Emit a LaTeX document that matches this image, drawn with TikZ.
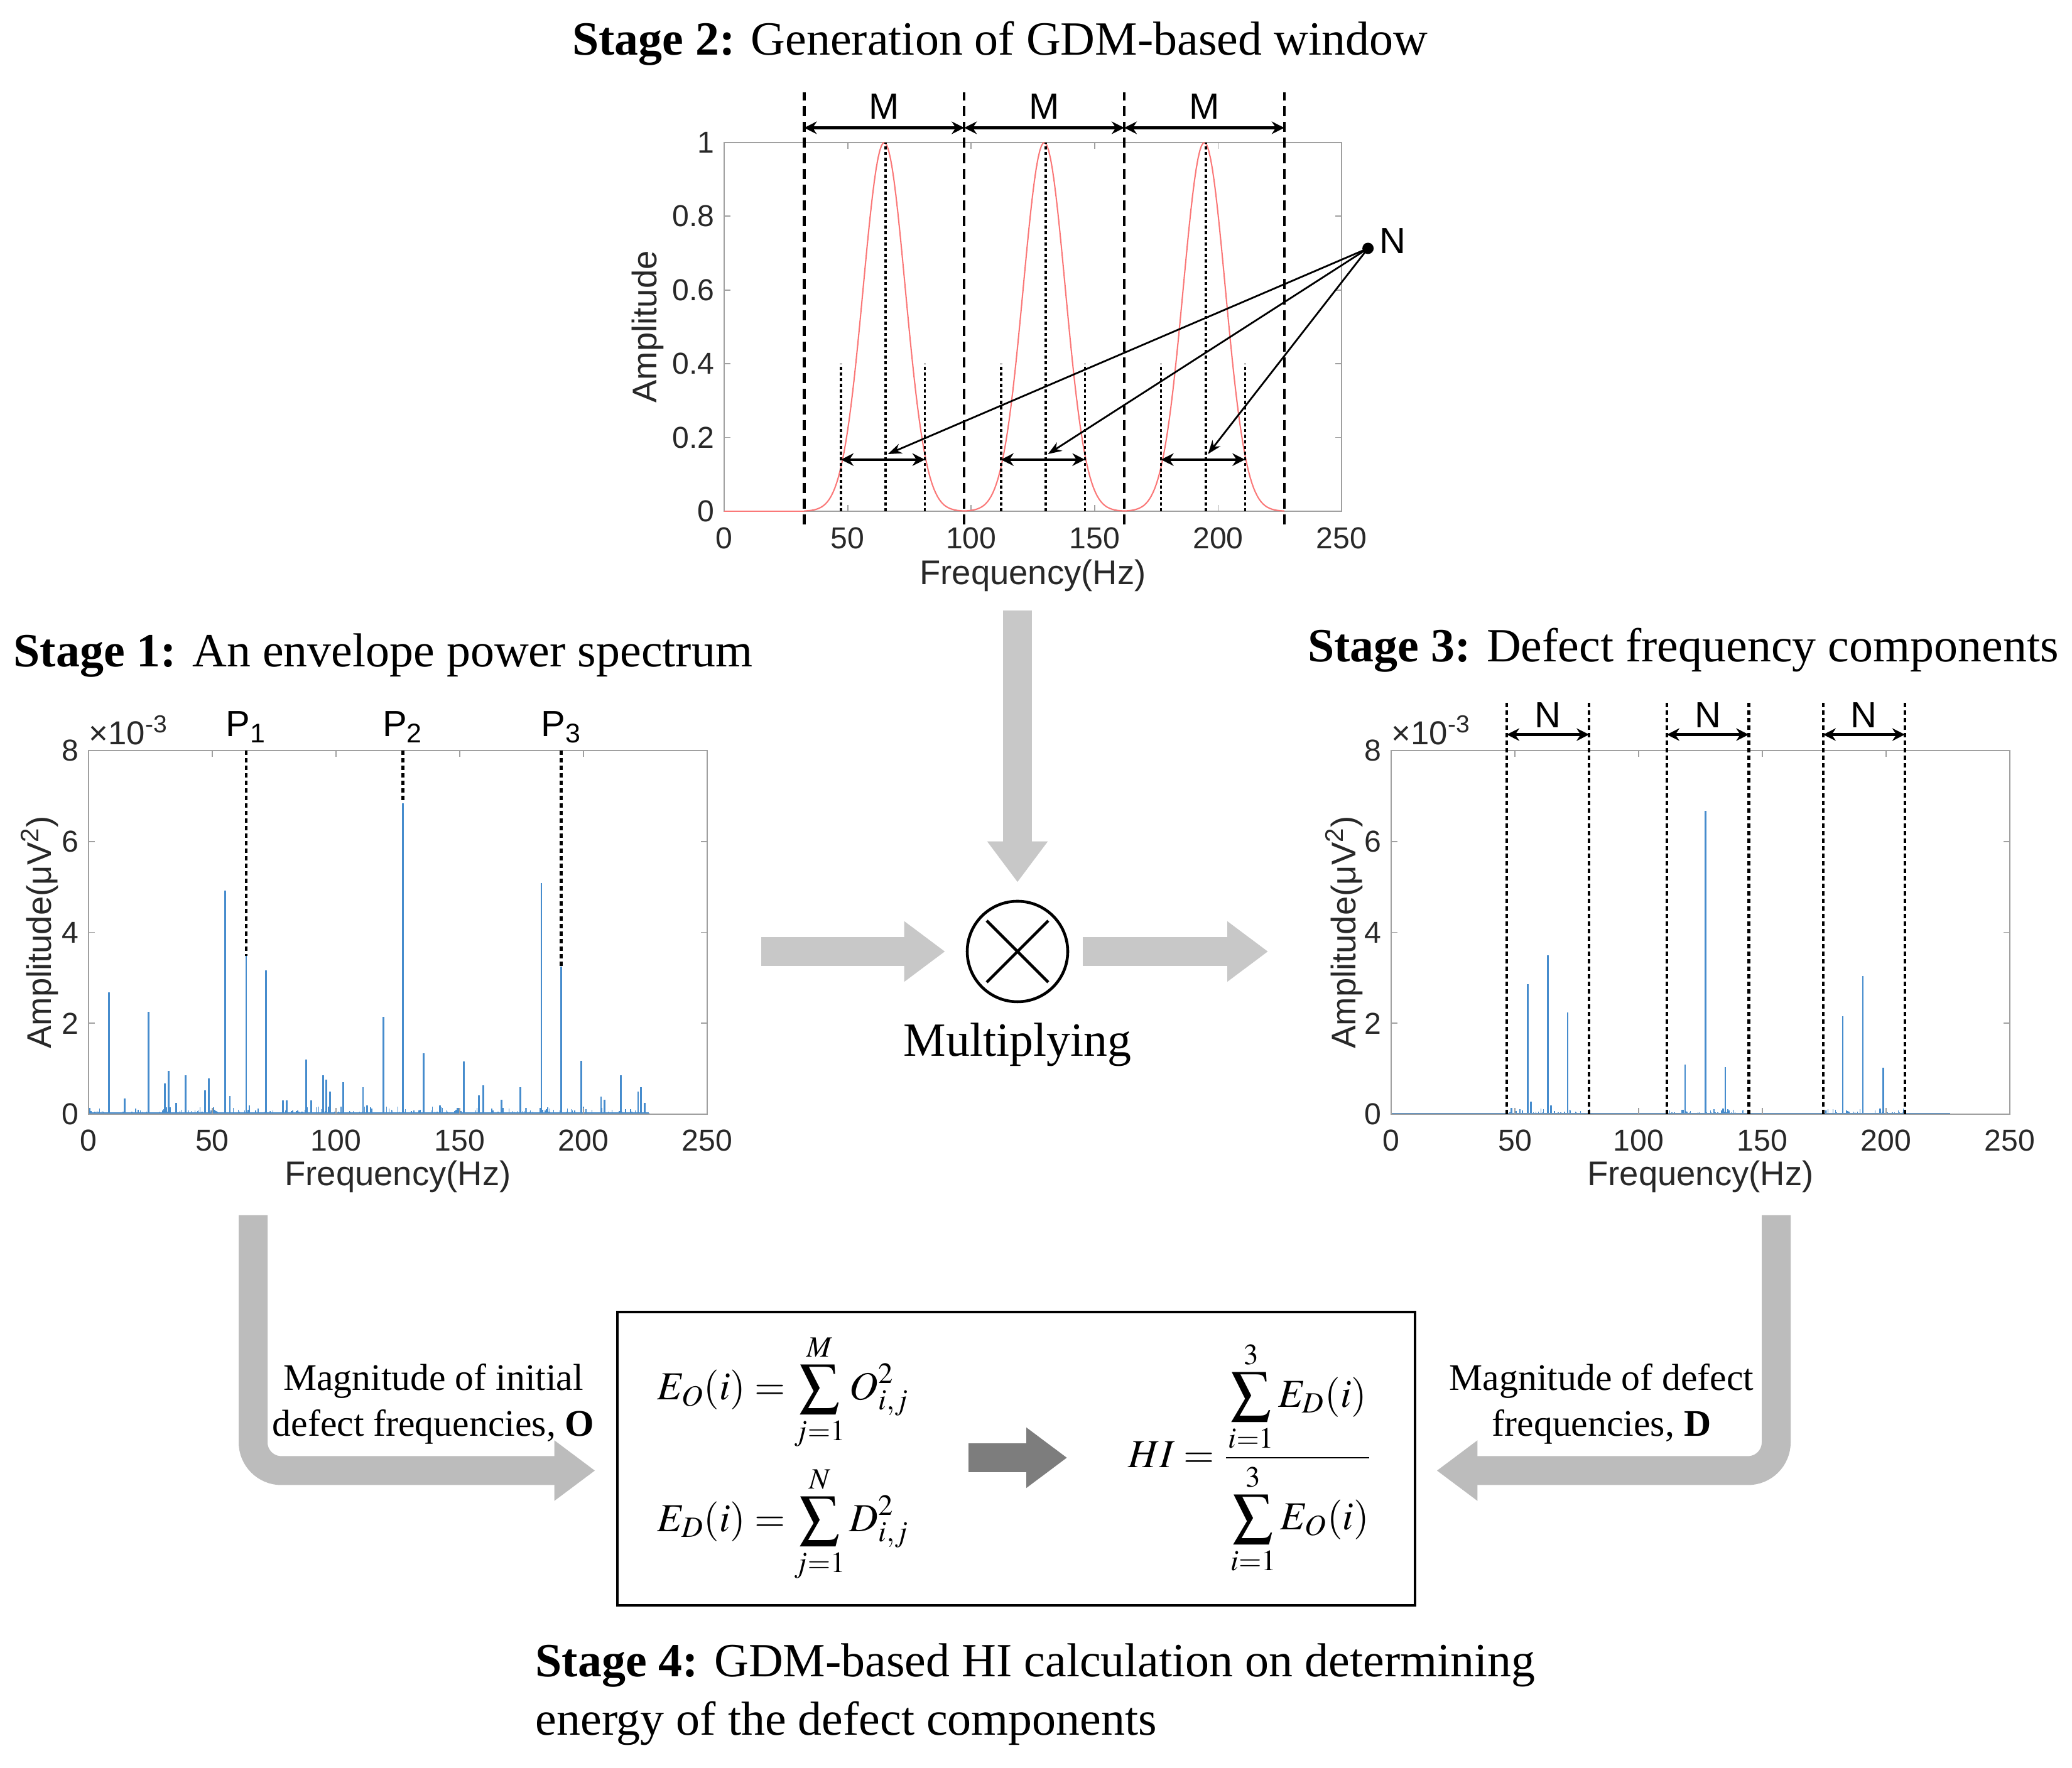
\documentclass[tikz,border=0pt]{standalone}
\usepackage{mathptmx}
\usepackage[no-math]{fontspec}
\setmainfont{Liberation Serif}
\newfontfamily\plotfont{Liberation Sans}
\usetikzlibrary{arrows.meta,positioning}
\definecolor{specblue}{RGB}{70,140,205}
\definecolor{gdmred}{RGB}{250,120,120}
\definecolor{axgray}{RGB}{160,160,160}
\definecolor{lblgray}{RGB}{40,40,40}
\definecolor{flowgray}{RGB}{200,200,200}
\definecolor{lgray}{RGB}{188,188,188}
\definecolor{dgray}{RGB}{125,125,125}
\tikzset{
  title/.style={font=\fontsize{21.6}{26.4}\selectfont, inner sep=0pt},
  ticklbl/.style={font=\plotfont\fontsize{13.7}{16}\selectfont, text=lblgray, inner sep=0pt},
  axlbl/.style={font=\plotfont\fontsize{15.5}{18}\selectfont, text=lblgray, inner sep=0pt},
  marklbl/.style={font=\plotfont\fontsize{16.5}{19}\selectfont, inner sep=0pt},
  axbox/.style={draw=axgray, line width=0.6pt},
  tickln/.style={axgray, line width=0.5pt},
  spec/.style={specblue, line width=0.8pt},
  fuzz/.style={specblue, line width=0.4pt},
  gdm/.style={gdmred, line width=0.6pt},
  bigdash/.style={black, line width=1.2pt, dash pattern=on 0.16cm off 0.09cm},
  dotln/.style={black, line width=1pt, dash pattern=on 0.045cm off 0.045cm},
  boldot/.style={black, line width=1.3pt, dash pattern=on 0.07cm off 0.05cm},
  dimarrow/.style={black, line width=1.3pt, {Stealth[length=0.2cm,width=0.2cm]}-{Stealth[length=0.2cm,width=0.2cm]}},
  narrow/.style={black, line width=0.8pt, -{Stealth[length=0.22cm,width=0.16cm]}},
  flowarrow/.style={line width=0.46cm, -{Triangle[length=0.65cm,width=0.92cm]}},
  fmla/.style={font=\fontsize{18}{22}\selectfont, inner sep=0pt},
  note/.style={font=\fontsize{17}{20.8}\selectfont, align=center, inner sep=0pt}
}
\begin{document}
\begin{tikzpicture}
\useasboundingbox (0,0) rectangle (32.99,28.15);

% titles
\node[title] (t2) at (15.92,27.46) {\textbf{Stage 2:} Generation of GDM-based window};
\node[title, anchor=west] (t1) at (0.21,17.71) {\textbf{Stage 1:} An envelope power spectrum};
\node[title] (t3) at (26.80,17.80) {\textbf{Stage 3:} Defect frequency components};
\node[title, anchor=west, align=left] (t4) at (8.52,1.175) {\textbf{Stage 4:} GDM-based HI calculation on determining\\energy of the defect components};

% stage 2: GDM-based window
\begin{scope}[shift={(11.53,20.01)}, x=0.03932cm, y=5.87cm]
  \draw[axbox] (0,0) rectangle (250,1);
  \foreach \f in {0,50,...,250} {
    \draw[tickln] (\f,0) -- (\f,0.017) (\f,1) -- (\f,0.983);
    \node[ticklbl, anchor=north] at (\f,-0.043) {\f};
  }
  \foreach \a/\t in {0/0,0.2/0.2,0.4/0.4,0.6/0.6,0.8/0.8,1/1} {
    \draw[tickln] (0,\a) -- (2.5,\a) (250,\a) -- (247.5,\a);
    \node[ticklbl, anchor=east] at (-3.8,\a) {\t};
  }
  \node[axlbl] at (125,-0.175) {Frequency(Hz)};
  \node[axlbl, rotate=90] at (-31,0.5) {Amplitude};
  \draw[gdm] (0,0) -- (32.4,0);
  \foreach \c/\lo/\hi in {64.8/32.4/97.2,129.6/97.2/162,194.4/162/226.8}
    \draw[gdm] plot[domain=\lo:\hi, samples=90] (\x,{exp(-0.5*pow((\x-\c)/8.5,2))});
  \foreach \f in {32.4,97.2,162,226.8}
    \draw[bigdash] (\f,-0.036) -- (\f,1.136);
  \foreach \a/\b in {32.4/97.2,97.2/162,162/226.8}
    \draw[dimarrow] (\a,1.04) -- node[marklbl, above=0.12cm] {M} (\b,1.04);
  \foreach \c in {64.8,129.6,194.4} {
    \draw[dotln] (\c+0.6,0) -- (\c+0.6,1);
    \draw[dotln] (\c-17.5,0) -- (\c-17.5,0.4);
    \draw[dotln] (\c+16.5,0) -- (\c+16.5,0.4);
    \draw[dimarrow] (\c-17.5,0.14) -- (\c+16.5,0.14);
  }
  \coordinate (npt) at (260.7,0.713);
  \fill (npt) circle[radius=0.09cm];
  \node[marklbl, anchor=west] (nlbl) at ([xshift=0.18cm,yshift=0.12cm]npt) {N};
  \foreach \c in {64.8,129.6,194.4}
    \draw[narrow] (npt) -- (\c+1.5,0.155);
\end{scope}

% stage 1: envelope power spectrum
\begin{scope}[shift={(1.41,10.41)}, x=0.0394cm, y=0.7238cm]
  \pgfmathsetseed{11}
  \foreach \f in {0.5,1.0,...,226.5}
    \draw[fuzz] (\f,0) -- (\f,{0.03+0.14*rnd^4});
  \draw[spec] (0,0.02) -- (226.5,0.02);
  \foreach \f/\a in {8.2/2.68,14.6/0.34,24.2/2.25,30.8/0.67,32.3/0.95,35.5/0.25,39.2/0.86,47/0.53,48.7/0.79,55.3/4.92,57.1/0.4,63.7/3.48,65/0.2,71.7/3.17,78.5/0.3,80/0.3,87.9/1.2,90/0.3,94.7/0.85,96/0.76,97.5/0.5,102.9/0.7,110.9/0.6,112.5/0.2,119.1/2.14,127/6.84,135.4/1.34,142/0.2,151.6/1.16,157.8/0.42,159.6/0.63,166.8/0.32,174.6/0.6,183/5.09,191/3.24,199.2/1.18,207.1/0.39,208.5/0.32,215.1/0.85,222.1/0.5,223.3/0.6,224.8/0.25}
    \draw[spec] (\f,0) -- (\f,\a);
  \draw[axbox] (0,0) rectangle (250,8);
  \foreach \f in {0,50,...,250} {
    \draw[tickln] (\f,0) -- (\f,0.14) (\f,8) -- (\f,7.86);
    \node[ticklbl, anchor=north] at (\f,-0.33) {\f};
  }
  \foreach \a in {0,2,...,8} {
    \draw[tickln] (0,\a) -- (2.5,\a) (250,\a) -- (247.5,\a);
    \node[ticklbl, anchor=east] at (-3.8,\a) {\a};
  }
  \node[ticklbl, font=\plotfont\fontsize{15}{17}\selectfont, anchor=south west] at ([yshift=0.08cm]0,8) {×10\textsuperscript{-3}};
  \node[axlbl] at (125,-1.37) {Frequency(Hz)};
  \node[axlbl, rotate=90] at (-19.8,4) {Amplitude(μV\textsuperscript{2})};
  \foreach \f/\a/\i in {63.7/3.48/1,127/6.84/2,191/3.24/3} {
    \draw[boldot] (\f,8) -- (\f,\a);
    \node[marklbl] at (\f,8.52) {P\textsubscript{\i}};
  }
\end{scope}

% stage 3: defect frequency components
\begin{scope}[shift={(22.15,10.41)}, x=0.0394cm, y=0.7238cm]
  \pgfmathsetseed{5}
  \foreach \a in {47,111.5,175}
    \foreach \k in {0,...,66}
      \draw[fuzz] (\a+\k*0.5,0) -- (\a+\k*0.5,{0.02+0.1*rnd^4});
  \draw[spec] (0,0.01) -- (226,0.01);
  \foreach \f/\a in {48.5/0.14,55.2/2.86,56.5/0.28,63.3/3.5,64.5/0.2,71.3/2.24,118.8/1.09,127.1/6.67,134.2/0.12,135/1.04,182.5/2.15,190.6/3.04,197.5/0.12,198.9/1.02}
    \draw[spec] (\f,0) -- (\f,\a);
  \draw[axbox] (0,0) rectangle (250,8);
  \foreach \f in {0,50,...,250} {
    \draw[tickln] (\f,0) -- (\f,0.14) (\f,8) -- (\f,7.86);
    \node[ticklbl, anchor=north] at (\f,-0.33) {\f};
  }
  \foreach \a in {0,2,...,8} {
    \draw[tickln] (0,\a) -- (2.5,\a) (250,\a) -- (247.5,\a);
    \node[ticklbl, anchor=east] at (-3.8,\a) {\a};
  }
  \node[ticklbl, font=\plotfont\fontsize{15}{17}\selectfont, anchor=south west] at ([yshift=0.08cm]0,8) {×10\textsuperscript{-3}};
  \node[axlbl] at (125,-1.37) {Frequency(Hz)};
  \node[axlbl, rotate=90] at (-19.0,4) {Amplitude(μV\textsuperscript{2})};
  \foreach \a/\b in {46.7/80,111.4/144.5,174.6/207.6} {
    \draw[boldot] (\a,0) -- (\a,9.1);
    \draw[boldot] (\b,0) -- (\b,9.1);
    \draw[dimarrow] (\a,8.35) -- (\b,8.35);
    \node[marklbl] at ({(\a+\b)/2},8.78) {N};
  }
\end{scope}

% multiplying
\node[draw, circle, line width=1.3pt, minimum size=1.6cm, inner sep=0pt] (mul) at (16.20,13.00) {};
\draw[line width=1.3pt] (mul.center) ++(-0.49,-0.49) -- ++(0.98,0.98);
\draw[line width=1.3pt] (mul.center) ++(-0.49,0.49) -- ++(0.98,-0.98);
\node[title] (multxt) at (16.20,11.52) {Multiplying};

\coordinate (s2out) at (16.20,18.43);
\coordinate (s1out) at (12.12,13.00);
\coordinate (s3in) at (20.19,13.00);
\draw[flowarrow, flowgray, shorten >=0.28cm] (s2out) -- (mul);
\draw[flowarrow, flowgray, shorten >=0.33cm] (s1out) -- (mul);
\draw[flowarrow, flowgray, shorten <=0.22cm] (mul) -- (s3in);

% stage 4 box
\node[draw, line width=1.4pt, minimum width=12.70cm, minimum height=4.67cm, inner sep=0pt] (hibox) at (16.18,4.925) {};
\node[fmla] (eo) at (12.47,5.98) {$\displaystyle E_O(i)=\sum_{j=1}^{M}O_{i,j}^{2}$};
\node[fmla] (ed) at (12.47,3.88) {$\displaystyle E_D(i)=\sum_{j=1}^{N}D_{i,j}^{2}$};
\node[fmla] (hi) at (19.90,4.94) {$\displaystyle HI=\frac{\displaystyle\sum_{i=1}^{3}E_D(i)\rule[-0.12cm]{0pt}{0pt}}{\displaystyle\rule{0pt}{0.42cm}\sum_{i=1}^{3}E_O(i)}$};
\coordinate (ar1) at (15.42,4.94);
\coordinate (ar2) at (16.99,4.94);
\draw[flowarrow, dgray] (ar1) -- (ar2);

\coordinate (s1down) at (4.03,8.80);
\coordinate (s3down) at (28.28,8.80);
\draw[flowarrow, lgray, rounded corners=0.45cm, shorten >=0.33cm] (s1down) |- ([yshift=-0.19cm]hibox.west);
\draw[flowarrow, lgray, rounded corners=0.45cm, shorten >=0.32cm] (s3down) |- ([yshift=-0.19cm]hibox.east);
\node[note] (onote) at (6.90,5.795) {Magnitude of initial\\defect frequencies, \textbf{O}};
\node[note] (dnote) at (25.50,5.795) {Magnitude of defect\\frequencies, \textbf{D}};
\end{tikzpicture}
\end{document}
